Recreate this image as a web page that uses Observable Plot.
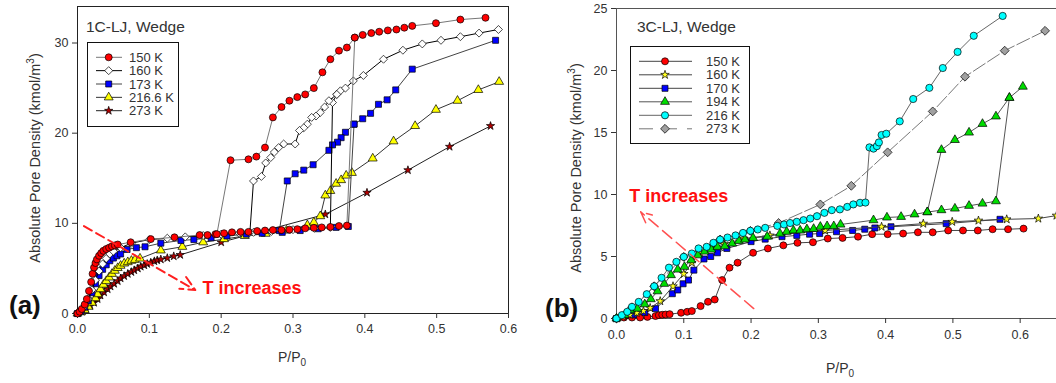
<!DOCTYPE html>
<html><head><meta charset="utf-8">
<script src="https://cdn.jsdelivr.net/npm/d3@7"></script>
<script src="https://cdn.jsdelivr.net/npm/@observablehq/plot@0.6"></script>
<style>
body{margin:0;background:#fff;}
#wrap{position:relative;width:1056px;height:383px;overflow:hidden;font-family:"Liberation Sans",Arial,sans-serif;color:#333;background:#fff;}
.abs{position:absolute;white-space:nowrap;line-height:1;}
.ylab{font-size:14.5px;transform:translate(-50%,-50%) rotate(-90deg);}
.ylab sup{font-size:10px;vertical-align:6px;line-height:0;}
.xlab{font-size:14px;transform:translate(-50%,-50%);}
.xlab sub{font-size:10px;vertical-align:-4px;line-height:0;}
.title{font-size:15.5px;transform:translateY(-50%);}
.plab{font-size:26px;font-weight:bold;color:#111;transform:translateY(-50%);}
</style></head><body><div id="wrap"></div>
<script>
// ---------- Panel (a): 1C-LJ, Wedge ----------
const aXTicks = [0, 0.1, 0.2, 0.3, 0.4, 0.5, 0.6];
const aYTicks = [0, 10, 20, 30];
const a150Ads = [[0,0],[0.003,0.2],[0.006,0.5],[0.01,1.0],[0.013,1.6],[0.016,2.5],[0.019,3.5],[0.021,4.4],[0.023,5.1],[0.025,5.6],[0.027,6.0],[0.03,6.4],[0.033,6.7],[0.036,6.95],[0.04,7.15],[0.044,7.3],[0.048,7.45],[0.052,7.55],[0.056,7.65],[0.074,7.9],[0.102,8.25],[0.135,8.45],[0.17,8.7],[0.181,8.7],[0.192,8.8],[0.204,8.9],[0.215,9.0],[0.227,9.05],[0.238,9.05],[0.25,9.15],[0.261,9.2],[0.272,9.25],[0.284,9.25],[0.295,9.3],[0.306,9.35],[0.317,9.45],[0.329,9.5],[0.34,9.55],[0.352,9.6],[0.364,9.7],[0.375,9.75],[0.386,30.6],[0.397,30.9],[0.409,31.1],[0.42,31.25],[0.432,31.4],[0.444,31.5],[0.455,31.7],[0.466,31.9],[0.499,32.2],[0.533,32.6],[0.568,32.8]];
const a150Des = [[0.386,30.6],[0.375,29.5],[0.364,29.15],[0.352,28.2],[0.341,26.75],[0.329,25.0],[0.317,24.3],[0.306,24.0],[0.295,23.6],[0.284,22.9],[0.272,21.75],[0.261,18.4],[0.249,17.4],[0.238,17.1],[0.213,17.0],[0.194,8.8]];
const a160Ads = [[0,0],[0.005,0.3],[0.01,0.8],[0.015,1.6],[0.02,2.6],[0.025,3.7],[0.03,4.7],[0.035,5.5],[0.04,6.1],[0.045,6.6],[0.05,6.9],[0.06,7.3],[0.075,7.8],[0.1,8.2],[0.125,8.35],[0.15,8.5],[0.175,8.65],[0.2,8.8],[0.225,8.9],[0.245,9.0],[0.27,9.1],[0.3,9.3],[0.33,9.45],[0.352,9.55],[0.355,23.4],[0.361,24.3],[0.366,24.7],[0.373,25.0],[0.384,25.8],[0.398,26.4],[0.426,28.2],[0.453,29.2],[0.48,29.9],[0.506,30.3],[0.533,30.7],[0.559,31.1],[0.586,31.5]];
const a160Des = [[0.361,24.3],[0.35,23.6],[0.344,22.9],[0.338,22.3],[0.332,21.9],[0.326,21.75],[0.32,21.0],[0.315,20.6],[0.309,20.3],[0.303,18.8],[0.287,18.8],[0.28,18.4],[0.274,17.9],[0.269,17.3],[0.262,16.7],[0.256,15.2],[0.245,14.7],[0.24,9.0]];
const a173Ads = [[0,0],[0.005,0.25],[0.01,0.7],[0.015,1.4],[0.02,2.3],[0.025,3.3],[0.03,4.2],[0.035,4.9],[0.04,5.4],[0.045,5.85],[0.05,6.15],[0.055,6.4],[0.06,6.6],[0.069,7.1],[0.082,7.3],[0.094,7.4],[0.116,7.8],[0.144,8.1],[0.162,8.2],[0.186,8.4],[0.208,8.6],[0.235,8.8],[0.257,8.9],[0.285,9.0],[0.31,9.2],[0.335,9.4],[0.36,9.55],[0.377,9.65],[0.385,21.0],[0.397,21.6],[0.408,22.2],[0.419,23.2],[0.431,23.7],[0.443,24.8],[0.466,27.1],[0.582,30.3]];
const a173Des = [[0.385,21.0],[0.373,20.1],[0.367,19.5],[0.362,19.0],[0.355,18.7],[0.35,18.1],[0.328,16.5],[0.315,15.9],[0.303,15.5],[0.292,14.7],[0.281,9.2]];
const a216Ads = [[0,0],[0.005,0.15],[0.01,0.4],[0.015,0.75],[0.02,1.2],[0.025,1.7],[0.028,2.15],[0.032,2.7],[0.036,3.2],[0.04,3.6],[0.044,4.0],[0.048,4.4],[0.052,4.75],[0.056,5.05],[0.06,5.3],[0.065,5.55],[0.07,5.7],[0.075,5.85],[0.08,5.95],[0.087,6.1],[0.116,7.0],[0.146,7.4],[0.175,7.9],[0.204,8.25],[0.233,8.6],[0.262,8.85],[0.291,9.2],[0.32,9.8],[0.329,10.1],[0.338,10.8],[0.345,13.1],[0.352,13.6],[0.36,14.4],[0.367,14.8],[0.374,15.3],[0.382,15.6],[0.411,17.2],[0.44,19.1],[0.47,20.8],[0.499,22.6],[0.529,23.6],[0.558,24.8],[0.587,25.7]];
const a273Ads = [[0,0],[0.006,0.2],[0.012,0.5],[0.018,0.85],[0.023,1.2],[0.028,1.6],[0.032,2.0],[0.037,2.35],[0.042,2.7],[0.046,3.0],[0.051,3.3],[0.056,3.6],[0.06,3.9],[0.065,4.15],[0.07,4.4],[0.075,4.6],[0.079,4.8],[0.084,5.0],[0.088,5.2],[0.093,5.35],[0.097,5.5],[0.102,5.65],[0.107,5.8],[0.111,5.9],[0.116,6.0],[0.125,6.15],[0.134,6.35],[0.143,6.5],[0.2,7.9],[0.345,11.0],[0.403,13.4],[0.46,15.9],[0.518,18.5],[0.575,20.8]];
const aLabels = ["150 K","160 K","173 K","216.6 K","273 K"];
const aArrow = [[0.009, 9.7, 0.164, 2.6]];
const aNote = [[0.174, 2.75, "T increases"]];

// ---------- Panel (b): 3C-LJ, Wedge ----------
const bXTicks = [0, 0.1, 0.2, 0.3, 0.4, 0.5, 0.6];
const bYTicks = [0, 5, 10, 15, 20, 25];
const b150 = [[0,0],[0.011,0.08],[0.023,0.08],[0.035,0.08],[0.046,0.13],[0.058,0.2],[0.063,0.27],[0.068,0.3],[0.073,0.32],[0.079,0.35],[0.096,0.46],[0.105,0.54],[0.112,0.6],[0.125,1.0],[0.136,1.35],[0.146,1.53],[0.157,3.1],[0.168,4.1],[0.18,4.5],[0.203,5.3],[0.225,5.65],[0.248,5.9],[0.269,6.1],[0.292,6.15],[0.314,6.45],[0.336,6.5],[0.359,6.6],[0.38,6.8],[0.403,6.8],[0.426,6.85],[0.448,6.95],[0.47,6.95],[0.493,7.1],[0.515,7.1],[0.537,7.1],[0.559,7.2],[0.582,7.2],[0.605,7.25]];
const b160 = [[0,0],[0.01,0.15],[0.02,0.3],[0.03,0.45],[0.04,0.6],[0.05,0.85],[0.065,1.4],[0.084,2.6],[0.1,3.6],[0.112,4.5],[0.124,5.3],[0.14,5.7],[0.16,6.0],[0.189,6.45],[0.228,6.7],[0.31,7.1],[0.394,7.4],[0.456,7.65],[0.499,7.8],[0.538,7.9],[0.58,8.0],[0.627,8.06],[0.654,8.3]];
const b170 = [[0,0],[0.013,0.27],[0.025,0.3],[0.042,0.48],[0.058,0.8],[0.083,2.0],[0.091,2.3],[0.099,2.8],[0.107,3.1],[0.115,3.9],[0.13,4.8],[0.14,5.0],[0.15,5.3],[0.164,5.65],[0.2,6.2],[0.221,6.4],[0.246,6.6],[0.268,6.7],[0.287,6.8],[0.302,6.85],[0.327,7.0],[0.351,7.1],[0.369,7.2],[0.384,7.3],[0.408,7.4],[0.49,7.65],[0.57,8.0]];
const b194Ads = [[0,0],[0.012,0.27],[0.021,0.67],[0.031,0.8],[0.042,1.15],[0.051,1.56],[0.061,2.2],[0.071,2.8],[0.081,3.5],[0.091,3.95],[0.101,4.17],[0.111,4.7],[0.121,5.1],[0.131,5.4],[0.141,5.56],[0.15,5.78],[0.161,5.83],[0.172,6.05],[0.182,6.26],[0.191,6.37],[0.203,6.5],[0.224,6.6],[0.243,6.85],[0.253,7.0],[0.263,7.1],[0.273,7.1],[0.283,7.2],[0.293,7.23],[0.303,7.4],[0.313,7.45],[0.323,7.45],[0.333,7.58],[0.382,7.93],[0.402,8.15],[0.423,8.2],[0.443,8.4],[0.462,8.58],[0.483,8.74],[0.503,8.87],[0.524,9.09],[0.544,9.27],[0.564,9.46],[0.584,17.8],[0.604,18.7]];
const b194Des = [[0.584,17.8],[0.564,16.3],[0.544,15.7],[0.524,15.0],[0.503,14.4],[0.483,13.6],[0.462,8.58]];
const b216 = [[0,0],[0.008,0.27],[0.016,0.54],[0.023,0.94],[0.033,1.34],[0.045,1.96],[0.056,2.6],[0.067,3.28],[0.078,4.1],[0.089,4.57],[0.1,4.97],[0.112,5.24],[0.122,5.65],[0.134,5.78],[0.144,6.1],[0.154,6.37],[0.165,6.53],[0.177,6.7],[0.188,6.9],[0.199,7.07],[0.21,7.18],[0.221,7.31],[0.239,7.47],[0.249,7.58],[0.258,7.7],[0.268,7.8],[0.278,7.93],[0.288,8.06],[0.298,8.25],[0.309,8.52],[0.32,8.74],[0.332,8.8],[0.343,9.0],[0.352,9.2],[0.362,9.33],[0.37,9.35],[0.376,13.8],[0.382,13.7],[0.387,13.9],[0.39,14.2],[0.394,14.8],[0.401,14.9],[0.421,15.9],[0.441,17.7],[0.465,18.6],[0.485,20.2],[0.507,21.5],[0.531,22.8],[0.574,24.4]];
const b273 = [[0,0],[0.023,0.9],[0.056,2.6],[0.1,4.97],[0.154,6.37],[0.199,7.07],[0.241,7.7],[0.303,9.2],[0.349,10.7],[0.403,13.4],[0.47,16.7],[0.518,19.5],[0.577,21.6],[0.637,23.2]];
const bLabels = ["150 K","160 K","170 K","194 K","216 K","273 K"];
const bArrow = [[0.204, 0.8, 0.036, 8.6]];
const bNote = [[0.019, 9.9, "T increases"]];

// ---------- styles (kept apart from data) ----------
const aStyle = [
  {label:aLabels[0], branches:[a150Ads,a150Des], symbol:"circle",   fill:"#ff0000", line:"#777", r:3.5},
  {label:aLabels[1], branches:[a160Ads,a160Des], symbol:"diamond2", fill:"#ffffff", line:"#000", r:3.6},
  {label:aLabels[2], branches:[a173Ads,a173Des], symbol:"square",   fill:"#0000ff", line:"#444", r:3.4},
  {label:aLabels[3], branches:[a216Ads],         symbol:"triangle", fill:"#ffff00", line:"#333", r:3.3},
  {label:aLabels[4], branches:[a273Ads],         symbol:"star",     fill:"#b00000", line:"#222", r:2.6}
];
const bStyle = [
  {label:bLabels[0], branches:[b150],            symbol:"circle",   fill:"#ff0000", line:"#444", r:3.5},
  {label:bLabels[1], branches:[b160],            symbol:"star",     fill:"#ffff20", line:"#444", r:2.7},
  {label:bLabels[2], branches:[b170],            symbol:"square",   fill:"#0000ff", line:"#444", r:3.4},
  {label:bLabels[3], branches:[b194Ads,b194Des], symbol:"triangle", fill:"#00dd00", line:"#555", r:3.3},
  {label:bLabels[4], branches:[b216],            symbol:"circle",   fill:"#00ffff", line:"#666", r:3.6},
  {label:bLabels[5], branches:[b273],            symbol:"diamond2", fill:"#a0a0a0", line:"#777", r:4.0, dash:"14,3"}
];
const aOrder = [4,3,2,1,0];
const bOrder = [5,0,2,1,3,4];

const FONT = '"Liberation Sans", Arial, sans-serif';
const X = d => d[0], Y = d => d[1];

function seriesMarks(styles, order) {
  const marks = [];
  for (const i of order) {
    const s = styles[i];
    for (const br of s.branches) {
      marks.push(Plot.line(br, {x:X, y:Y, stroke:s.line, strokeWidth:1, strokeDasharray:s.dash || null}));
    }
    const pts = s.branches.flat();
    marks.push(Plot.dot(pts, {x:X, y:Y, symbol:s.symbol, fill:s.fill, stroke:"#000", strokeWidth:0.7, r:s.r}));
  }
  return marks;
}

const wrap = document.getElementById("wrap");

// Panel (a)
const plotA = Plot.plot({
  width:530, height:383,
  marginLeft:77, marginRight:22, marginTop:6, marginBottom:70,
  x:{domain:[0,0.6]}, y:{domain:[0,34.05]},
  style:{fontFamily:FONT, fontSize:"12.5px", color:"#333", background:"transparent", overflow:"visible"},
  marks:[
    Plot.frame({stroke:"#222", strokeWidth:1}),
    Plot.axisX({ticks:aXTicks, tickFormat:d3.format(".1f"), tickSize:5, tickPadding:6, label:null, fontSize:12.5}),
    Plot.axisY({ticks:aYTicks, tickSize:5, tickPadding:4, label:null, fontSize:12.5}),
    ...seriesMarks(aStyle, aOrder),
    Plot.arrow(aArrow, {x1:d=>d[0], y1:d=>d[1], x2:d=>d[2], y2:d=>d[3], stroke:"#ff2020", strokeWidth:2, strokeDasharray:"9,5", headLength:12, headAngle:50}),
    Plot.text(aNote, {x:d=>d[0], y:d=>d[1], text:d=>d[2], textAnchor:"start", fill:"#ff1010", fontSize:18, fontWeight:"bold"})
  ]
});
plotA.style.position = "absolute"; plotA.style.left = "0px"; plotA.style.top = "0px";
wrap.appendChild(plotA);

// Panel (b)
const plotB = Plot.plot({
  width:526, height:383,
  marginLeft:86, marginRight:0, marginTop:8, marginBottom:65,
  x:{domain:[0,0.654]}, y:{domain:[0,25]},
  style:{fontFamily:FONT, fontSize:"12.5px", color:"#333", background:"transparent", overflow:"hidden"},
  marks:[
    Plot.ruleY([25], {stroke:"#555"}),
    Plot.ruleY([0], {stroke:"#555"}),
    Plot.ruleX([0], {stroke:"#555"}),
    Plot.axisX({ticks:bXTicks, tickFormat:d3.format(".1f"), tickSize:5, tickPadding:7, label:null, fontSize:12.5}),
    Plot.axisY({ticks:bYTicks, tickSize:5, tickPadding:4, label:null, fontSize:12.5}),
    ...seriesMarks(bStyle, bOrder),
    Plot.arrow(bArrow, {x1:d=>d[0], y1:d=>d[1], x2:d=>d[2], y2:d=>d[3], stroke:"#ff5050", strokeWidth:1.5, strokeDasharray:"12,6", headLength:12, headAngle:50}),
    Plot.text(bNote, {x:d=>d[0], y:d=>d[1], text:d=>d[2], textAnchor:"start", fill:"#ff1010", fontSize:18, fontWeight:"bold"})
  ]
});
plotB.style.position = "absolute"; plotB.style.left = "530px"; plotB.style.top = "0px";
wrap.appendChild(plotB);

// Legends (drawn with d3 symbols)
const symMap = {circle:d3.symbolCircle, diamond2:d3.symbolDiamond2, square:d3.symbolSquare, triangle:d3.symbolTriangle, star:d3.symbolStar};
function legend(styles, box) {
  const svg = d3.create("svg").attr("width", box.w).attr("height", box.h)
    .style("position","absolute").style("left", box.x+"px").style("top", box.y+"px").style("overflow","visible");
  svg.append("rect").attr("x",0.5).attr("y",0.5).attr("width",box.w-1).attr("height",box.h-1)
    .attr("fill","#fff").attr("stroke","#111");
  styles.forEach((s,i) => {
    const cy = box.row0 + i*box.dy;
    svg.append("line").attr("x1",box.l1).attr("x2",box.l2).attr("y1",cy).attr("y2",cy)
      .attr("stroke", s.line).attr("stroke-dasharray", s.dash ? "14,10" : null);
    svg.append("path").attr("d", d3.symbol(symMap[s.symbol], Math.PI*s.r*s.r)())
      .attr("transform", `translate(${box.mx},${cy})`).attr("fill", s.fill).attr("stroke","#000").attr("stroke-width",0.7);
    svg.append("text").attr("x", box.tx).attr("y", cy).attr("dy","0.35em").text(s.label)
      .attr("font-family", FONT).attr("font-size", 13).attr("fill","#333");
  });
  wrap.appendChild(svg.node());
}
legend(aStyle, {x:87, y:42, w:92, h:85, row0:15.3, dy:13.35, l1:9, l2:35, mx:21.7, tx:42});
legend(bStyle, {x:630, y:46, w:120, h:98, row0:15.3, dy:13.5, l1:9, l2:62, mx:35, tx:76});

// HTML labels
function html(cls, x, y, content) {
  const d = document.createElement("div");
  d.className = "abs " + cls; d.style.left = x + "px"; d.style.top = y + "px"; d.innerHTML = content;
  wrap.appendChild(d);
}
html("title", 86, 27, "1C-LJ, Wedge");
html("title", 637, 27, "3C-LJ, Wedge");
html("ylab", 35, 158, "Absolute Pore Density (kmol/m<sup>3</sup>)");
html("ylab", 576, 168, "Absolute Pore Density (kmol/m<sup>3</sup>)");
html("xlab", 292, 357, "P/P<sub>0</sub>");
html("xlab", 840, 368, "P/P<sub>0</sub>");
html("plab", 9, 305, "(a)");
html("plab", 545, 308, "(b)");
</script></body></html>
